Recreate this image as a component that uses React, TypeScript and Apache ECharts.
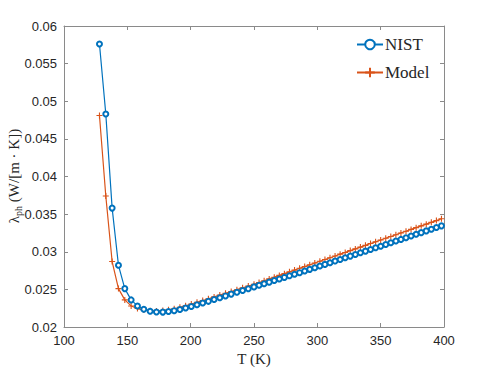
import React, { useEffect, useRef } from "react";
import * as echarts from "echarts";

const temperatures = [
  128, 133, 138, 143, 148, 153, 158, 163, 168, 173, 178,
  182.5, 187, 191.5, 196, 200.5, 205, 209.5, 214, 218.5, 223, 227.5, 232, 236.5, 241, 245.5, 250,
  254, 258, 262, 266, 270, 274, 278, 282, 286, 290, 294, 298, 302, 306, 310, 314, 318, 322, 326,
  330, 334, 338, 342, 346, 350, 354, 358, 362, 366, 370, 374, 378, 382, 386, 390, 394, 398,
];

const nist = [
  0.0576, 0.0483, 0.0358, 0.0282, 0.0251, 0.0236, 0.0228, 0.02235, 0.0221, 0.022, 0.02198,
  0.02205, 0.02217, 0.02233, 0.02252, 0.02273, 0.02295, 0.02318, 0.02341, 0.02365, 0.02389, 0.02413,
  0.02437, 0.02461, 0.02485, 0.02509, 0.02533,
  0.02554, 0.02575, 0.02596, 0.02617, 0.02638, 0.02659, 0.0268, 0.02701, 0.02722, 0.02744, 0.02766,
  0.02788, 0.0281, 0.02832, 0.02854, 0.02876, 0.02898, 0.0292, 0.02942, 0.02964, 0.02986, 0.03008,
  0.0303, 0.03052, 0.03074, 0.03097, 0.03119, 0.03142, 0.03164, 0.03187, 0.03209, 0.03232, 0.03254,
  0.03277, 0.03299, 0.03322, 0.03344,
];

const model = [
  0.0481, 0.0374, 0.0287, 0.0251, 0.0236, 0.0228, 0.02245, 0.02225, 0.02215, 0.02213, 0.02218,
  0.02228, 0.02243, 0.02262, 0.02283, 0.02305, 0.02328, 0.02352, 0.02376, 0.024, 0.02424, 0.02448,
  0.02472, 0.02496, 0.0252, 0.02544, 0.02568,
  0.02592, 0.02615, 0.02639, 0.02662, 0.02686, 0.02709, 0.02733, 0.02756, 0.0278, 0.02803, 0.02827,
  0.0285, 0.02874, 0.02897, 0.02921, 0.02944, 0.02968, 0.02991, 0.03015, 0.03038, 0.03062, 0.03085,
  0.03109, 0.03132, 0.03156, 0.03179, 0.03203, 0.03226, 0.0325, 0.03273, 0.03297, 0.0332, 0.03344,
  0.03367, 0.03391, 0.03414, 0.03438,
];

const seriesNames = ["NIST", "Model"];
const xRange = { min: 100, max: 400, interval: 50 };
const yRange = { min: 0.02, max: 0.06, interval: 0.005 };

const BLUE = "#0072BD";
const ORANGE = "#D95319";
const AXIS = "#8a8a8a";
const TEXT = "#262626";
const SANS = "'Liberation Sans', Arial, Helvetica, sans-serif";
const SERIF = "'Liberation Serif', 'Times New Roman', serif";

export default function App() {
  const ref = useRef<HTMLDivElement>(null);

  useEffect(() => {
    if (!ref.current) return;
    const chart = echarts.init(ref.current, null, { renderer: "svg" });

    const axisCommon = {
      axisLine: { show: true, lineStyle: { color: AXIS, width: 1 } },
      axisTick: { show: true, inside: true, length: 4, lineStyle: { color: AXIS, width: 1 } },
      splitLine: { show: false },
    };

    const pairs = (vals: number[]) => temperatures.map((t, i) => [t, vals[i]]);

    chart.setOption({
      animation: false,
      backgroundColor: "#ffffff",
      grid: { left: 64, right: 47, top: 26, bottom: 41, containLabel: false, outerBoundsMode: "none" },
      legend: {
        orient: "vertical",
        left: 356,
        top: 36,
        itemWidth: 26,
        itemHeight: 12,
        itemGap: 11,
        padding: 0,
        textStyle: { fontFamily: SERIF, fontSize: 17, color: TEXT, padding: [0, 0, 0, -3] },
        data: seriesNames,
      },
      graphic: [
        {
          type: "text",
          x: 14,
          y: 176,
          rotation: Math.PI / 2,
          style: {
            text: "{l|λ}{s|ph}{l| (W/[m · K])}",
            align: "center",
            verticalAlign: "middle",
            fill: TEXT,
            rich: {
              l: { fontFamily: SERIF, fontSize: 15, fill: TEXT, lineHeight: 18 },
              s: { fontFamily: SERIF, fontSize: 10, fill: TEXT, lineHeight: 18, verticalAlign: "bottom", padding: [6, 0, 0, 0] },
            },
          },
        },
      ],
      xAxis: [
        {
          type: "value",
          ...xRange,
          position: "bottom",
          ...axisCommon,
          axisLabel: { color: TEXT, fontFamily: SANS, fontSize: 13, margin: 7 },
          name: "T (K)",
          nameLocation: "middle",
          nameGap: 19,
          nameTextStyle: { fontFamily: SERIF, fontSize: 15, color: TEXT },
        },
        {
          type: "value",
          ...xRange,
          position: "top",
          ...axisCommon,
          axisLabel: { show: false },
        },
      ],
      yAxis: [
        {
          type: "value",
          ...yRange,
          position: "left",
          ...axisCommon,
          axisLabel: {
            color: TEXT,
            fontFamily: SANS,
            fontSize: 13,
            margin: 7,
            formatter: (v: number) => String(+v.toFixed(3)),
          },
        },
        {
          type: "value",
          ...yRange,
          position: "right",
          ...axisCommon,
          axisLabel: { show: false },
        },
      ],
      series: [
        {
          name: seriesNames[0],
          type: "line",
          xAxisIndex: 0,
          yAxisIndex: 0,
          data: pairs(nist),
          lineStyle: { color: BLUE, width: 1.2 },
          itemStyle: { color: BLUE, borderColor: BLUE, borderWidth: 1 },
          symbol: "emptyCircle",
          symbolSize: 5,
          showSymbol: true,
          z: 3,
        },
        {
          name: seriesNames[1],
          type: "line",
          xAxisIndex: 0,
          yAxisIndex: 0,
          data: pairs(model),
          lineStyle: { color: ORANGE, width: 1.2 },
          itemStyle: { color: ORANGE, borderColor: ORANGE, borderWidth: 1.1 },
          symbol: "path://M0,5L10,5M5,0L5,10",
          symbolSize: 6,
          showSymbol: true,
          z: 2,
        },
      ],
    });

    return () => chart.dispose();
  }, []);

  return (
    <div
      ref={ref}
      style={{ position: "fixed", left: 0, top: 0, width: 491, height: 368, background: "#fff" }}
    />
  );
}
